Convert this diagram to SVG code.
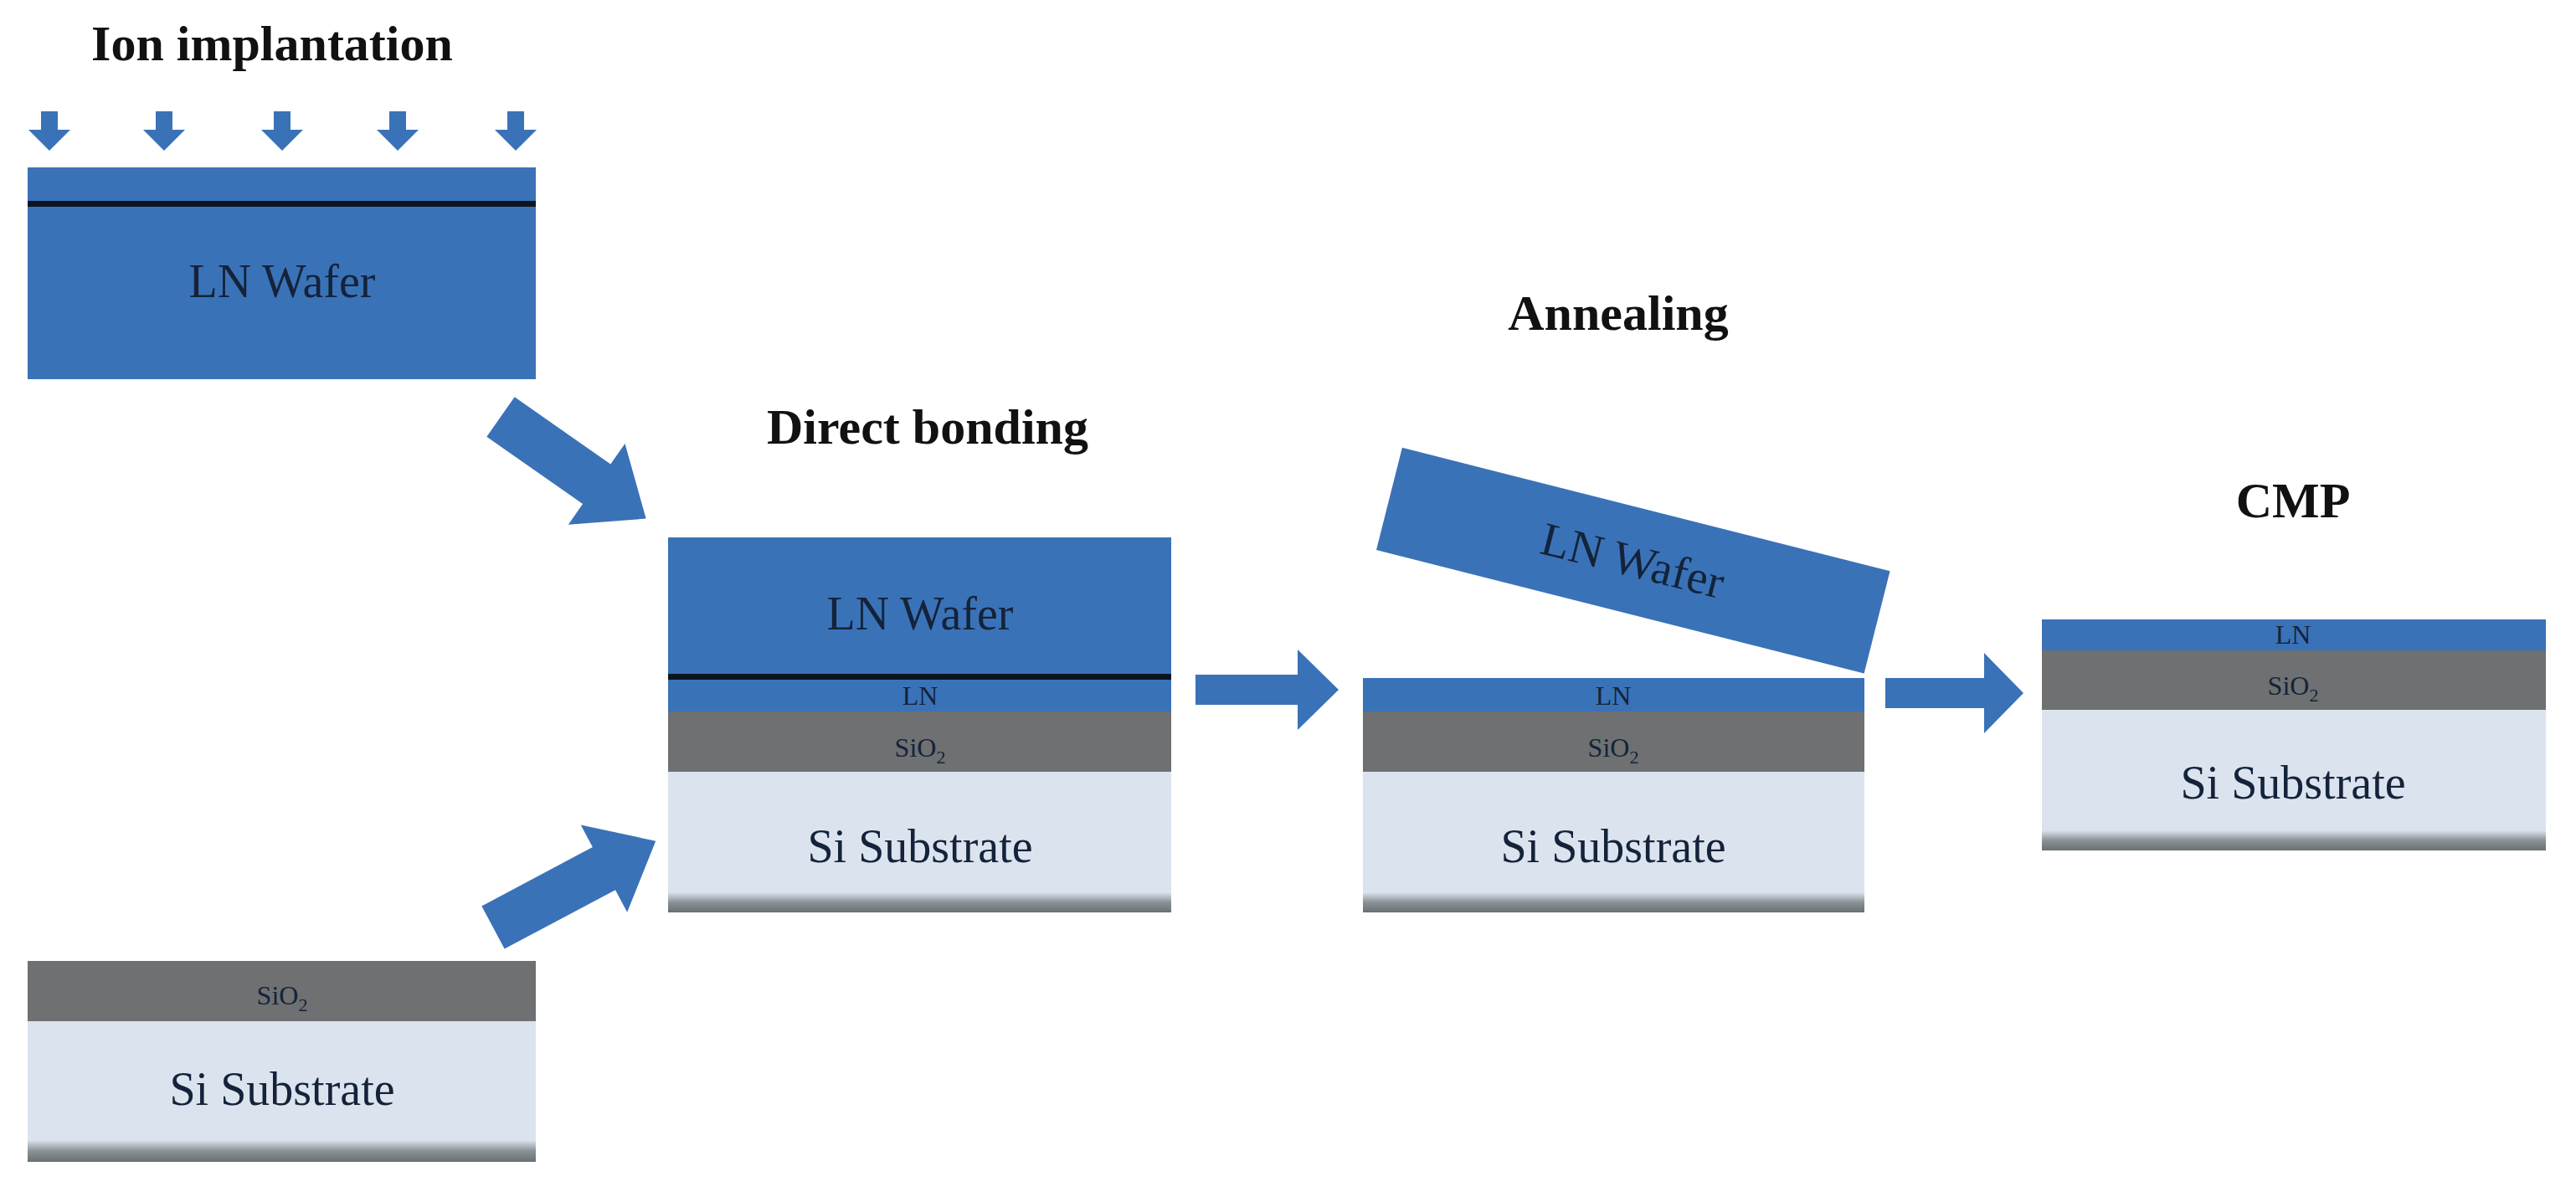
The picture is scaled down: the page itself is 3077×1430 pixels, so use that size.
<svg xmlns="http://www.w3.org/2000/svg" width="3077" height="1430" viewBox="0 0 3077 1430">
<defs>
<linearGradient id="sh" x1="0" y1="0" x2="0" y2="1">
<stop offset="0" stop-color="#dbe4ee"/><stop offset="0.5" stop-color="#8a9296"/><stop offset="1" stop-color="#6a7072"/>
</linearGradient>
</defs>
<style>
.ln{fill:#3a72b8}.ox{fill:#6e7071}.si{fill:#dbe4ee}
text{font-family:"Liberation Serif",serif;text-anchor:middle;fill:#14233a}
.t{font-weight:bold;font-size:60px;fill:#111}
.big{font-size:56px}.sm{font-size:32px}
.bk{fill:#0c1422}
</style>
<rect width="3077" height="1430" fill="#fff"/>
<g id="titles">
<text class="t" x="325" y="72">Ion implantation</text>
<text class="t" x="1108" y="530">Direct bonding</text>
<text class="t" x="1933" y="394">Annealing</text>
<text class="t" x="2739" y="618">CMP</text>
</g>
<g id="ions" class="ln">
<path d="M49 133h20v22h15l-25 25-25-25h15z"/>
<path d="M186 133h20v22h15l-25 25-25-25h15z"/>
<path d="M327 133h20v22h15l-25 25-25-25h15z"/>
<path d="M465 133h20v22h15l-25 25-25-25h15z"/>
<path d="M606 133h20v22h15l-25 25-25-25h15z"/>
</g>
<g id="wafer1">
<rect class="ln" x="33" y="200" width="607" height="253"/>
<rect class="bk" x="33" y="240" width="607" height="7"/>
<text class="big" x="337" y="355">LN Wafer</text>
</g>
<g id="substrate1">
<rect class="ox" x="33" y="1148" width="607" height="72"/>
<rect class="si" x="33" y="1220" width="607" height="150"/>
<rect fill="url(#sh)" x="33" y="1362" width="607" height="26"/>
<text class="sm" x="337" y="1200">SiO<tspan font-size="22" dy="8">2</tspan></text>
<text class="big" x="337" y="1320">Si Substrate</text>
</g>
<g id="stack2">
<rect class="ln" x="798" y="642" width="601" height="208"/>
<rect class="bk" x="798" y="805" width="601" height="7"/>
<rect class="ox" x="798" y="850" width="601" height="72"/>
<rect class="si" x="798" y="922" width="601" height="150"/>
<rect fill="url(#sh)" x="798" y="1066" width="601" height="24"/>
<text class="big" x="1099" y="752">LN Wafer</text>
<text class="sm" x="1099" y="842">LN</text>
<text class="sm" x="1099" y="904">SiO<tspan font-size="22" dy="8">2</tspan></text>
<text class="big" x="1099" y="1030">Si Substrate</text>
</g>
<g id="stack3">
<rect class="ln" x="1628" y="810" width="599" height="40"/>
<rect class="ox" x="1628" y="850" width="599" height="72"/>
<rect class="si" x="1628" y="922" width="599" height="150"/>
<rect fill="url(#sh)" x="1628" y="1066" width="599" height="24"/>
<text class="sm" x="1927" y="842">LN</text>
<text class="sm" x="1927" y="904">SiO<tspan font-size="22" dy="8">2</tspan></text>
<text class="big" x="1927" y="1030">Si Substrate</text>
</g>
<g id="tilted" transform="translate(1644 657) rotate(14.2)">
<rect class="ln" x="0" y="-126" width="601" height="126"/>
<text class="big" x="300" y="-44">LN Wafer</text>
</g>
<g id="stack4">
<rect class="ln" x="2439" y="740" width="602" height="37"/>
<rect class="ox" x="2439" y="777" width="602" height="71"/>
<rect class="si" x="2439" y="848" width="602" height="150"/>
<rect fill="url(#sh)" x="2439" y="992" width="602" height="24"/>
<text class="sm" x="2739" y="769">LN</text>
<text class="sm" x="2739" y="830">SiO<tspan font-size="22" dy="8">2</tspan></text>
<text class="big" x="2739" y="954">Si Substrate</text>
</g>
<g id="connectors" class="ln">
<path d="M0 -29H140V-59L212 0L140 59V29H0Z" transform="translate(598 498) rotate(35)"/>
<path d="M0 -29H150V-59L220 0L150 59V29H0Z" transform="translate(589 1108) rotate(-28)"/>
<path d="M1428 806H1550V776L1599 824L1550 872V842H1428Z"/>
<path d="M2252 810H2370V780L2417 828L2370 876V846H2252Z"/>
</g>
</svg>
